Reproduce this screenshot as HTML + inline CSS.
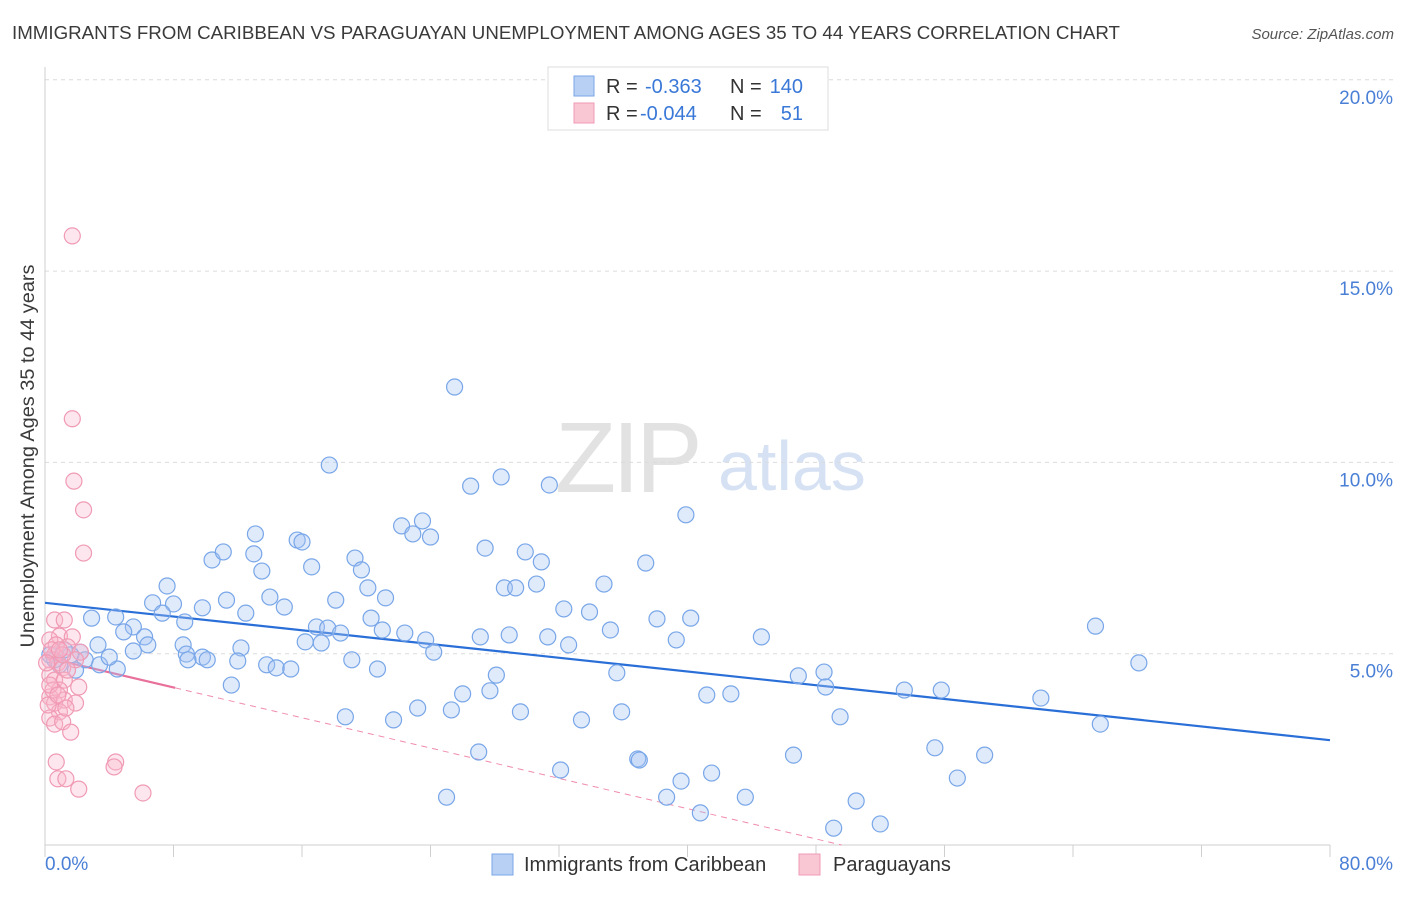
<!DOCTYPE html>
<html><head><meta charset="utf-8"><style>
body{margin:0;background:#fff;font-family:"Liberation Sans",sans-serif;}
svg text{font-family:"Liberation Sans",sans-serif;}
</style></head><body>
<svg id="chart" width="1406" height="892" xmlns="http://www.w3.org/2000/svg">
<text x="12" y="39" font-size="18.5" fill="#3a3a3a" textLength="1108" lengthAdjust="spacingAndGlyphs">IMMIGRANTS FROM CARIBBEAN VS PARAGUAYAN UNEMPLOYMENT AMONG AGES 35 TO 44 YEARS CORRELATION CHART</text>
<text x="1394" y="39" font-size="15" fill="#555" text-anchor="end" font-style="italic">Source: ZipAtlas.com</text>
<g>
<text x="555" y="492" font-size="100" fill="#e2e2e2" font-family="Liberation Serif" letter-spacing="-4">ZIP</text>
<text x="718" y="490" font-size="70" fill="#d6e2f4">atlas</text>
</g>
<g id="grid"></g>
<g id="axes"></g>
<g id="trends"></g>
<g id="points"></g>
<text transform="translate(34,456) rotate(-90)" font-size="19" fill="#3a3a3a" text-anchor="middle" textLength="383" lengthAdjust="spacingAndGlyphs">Unemployment Among Ages 35 to 44 years</text>
<g>
<rect x="548" y="67" width="280" height="63" fill="#fff" stroke="#ddd"/>
<rect x="574" y="76" width="20" height="20" fill="#b8d0f4" stroke="#7aa6e6"/>
<rect x="574" y="103" width="20" height="20" fill="#f9c6d4" stroke="#f09ab4"/>
<text x="606" y="93" font-size="20" fill="#333">R =</text>
<text x="645" y="93" font-size="20" fill="#3a78d8">-0.363</text>
<text x="730" y="93" font-size="20" fill="#333">N =</text>
<text x="803" y="93" font-size="20" fill="#3a78d8" text-anchor="end">140</text>
<text x="606" y="120" font-size="20" fill="#333">R =</text>
<text x="640" y="120" font-size="20" fill="#3a78d8">-0.044</text>
<text x="730" y="120" font-size="20" fill="#333">N =</text>
<text x="803" y="120" font-size="20" fill="#3a78d8" text-anchor="end">51</text>
</g>
<g>
<rect x="492" y="854" width="21" height="21" fill="#b8d0f4" stroke="#7aa6e6"/>
<text x="524" y="871" font-size="20" fill="#333">Immigrants from Caribbean</text>
<rect x="799" y="854" width="21" height="21" fill="#f9c6d4" stroke="#f09ab4"/>
<text x="833" y="871" font-size="20" fill="#333">Paraguayans</text>
</g>
</svg>
<script>
const blueX=[25.5,17.7,28.4,26.5,31.4,39.9,23.5,22.2,22.9,24.0,13.1,15.7,16.0,27.4,29.9,30.9,37.4,10.4,11.1,13.0,19.3,19.7,13.5,16.6,7.6,20.1,28.6,29.3,30.6,34.8,21.2,14.0,6.7,8.0,18.1,11.3,14.9,9.8,32.3,33.9,20.3,7.3,12.5,2.9,4.4,38.1,40.2,65.4,8.7,16.9,17.6,18.4,5.5,4.9,6.2,6.4,8.6,22.4,21.0,23.7,27.1,28.9,31.3,32.6,35.2,39.3,44.6,3.3,5.5,8.8,9.8,12.2,8.9,10.1,12.0,16.2,17.2,24.2,19.1,13.8,14.4,15.3,20.7,4.5,68.1,48.5,46.9,28.1,35.6,48.6,11.6,26.0,27.7,53.5,55.8,41.2,42.7,62.0,23.2,25.3,29.6,35.9,18.7,21.7,33.4,49.5,65.7,55.4,58.5,46.6,27.0,36.9,37.0,32.1,41.5,39.6,56.8,38.7,43.6,25.0,50.5,40.8,49.1,52.0,2.2,1.6,0.6,0.9,2.5,3.4,0.3,1.2,4.0,1.9];
const blueY=[11.97,9.93,9.62,9.38,9.41,8.63,8.47,8.34,8.13,8.05,8.13,7.97,7.92,7.76,7.66,7.40,7.37,7.45,7.66,7.61,7.50,7.19,7.16,7.27,6.77,6.72,6.72,6.72,6.82,6.82,6.46,6.48,6.33,6.30,6.40,6.40,6.22,6.20,6.17,6.09,5.93,6.06,6.06,5.93,5.96,5.91,5.93,5.72,5.83,5.70,5.67,5.54,5.70,5.57,5.44,5.23,5.23,5.54,5.62,5.36,5.44,5.49,5.44,5.23,5.62,5.36,5.44,5.23,5.07,4.99,4.91,5.15,4.84,4.84,4.81,5.31,5.28,5.04,4.84,4.71,4.63,4.60,4.60,4.60,4.76,4.52,4.42,4.44,4.50,4.13,4.18,3.95,4.03,4.05,4.05,3.92,3.95,3.84,3.58,3.53,3.48,3.48,3.35,3.27,3.27,3.35,3.16,2.54,2.35,2.35,2.43,2.25,2.22,1.96,1.88,1.67,1.75,1.25,1.25,1.25,1.15,0.84,0.44,0.55,5.04,4.97,4.84,4.71,4.84,4.71,4.97,5.10,4.91,4.57];
const pinkX=[1.7,1.7,1.8,2.4,2.4,0.6,1.2,0.9,1.7,1.4,0.6,0.3,0.8,1.1,0.3,0.6,1.2,2.2,2.1,0.9,0.3,0.6,1.2,1.9,0.9,0.3,0.6,1.1,1.6,0.7,4.4,4.3,0.8,1.3,2.1,6.1,0.3,0.7,0.4,0.1,0.5,0.2,1.3,1.9,1.4,0.3,0.8,1.1,0.9];
const pinkY=[15.92,11.14,9.51,8.76,7.63,5.88,5.88,5.46,5.44,5.18,4.97,4.84,4.76,4.63,4.44,4.31,4.31,5.04,4.13,4.05,3.87,3.71,3.79,3.71,3.48,3.32,3.16,3.22,2.95,2.17,2.17,2.04,1.73,1.73,1.46,1.36,5.36,5.23,5.10,4.76,4.05,3.66,3.58,4.84,4.57,4.18,3.92,4.97,5.10];
const blueTrend=[6.33,2.74]; // y at x=0 and x=80
const pinkTrend=[4.91,-0.099]; // intercept, slope
const pinkSolidEnd=8.1;
const yTicks=[5,10,15,20];
const xTickLabels=["0.0%","80.0%"];

const NS="http://www.w3.org/2000/svg";
const X0=45,X1=1330,Y0=845,YPX=191.3;
const sx=v=>X0+(v/80)*(X1-X0);
const sy=v=>Y0-v/5*YPX;
function mk(tag,attrs,parent){const e=document.createElementNS(NS,tag);for(const k in attrs)e.setAttribute(k,attrs[k]);document.getElementById(parent).appendChild(e);return e;}

yTicks.forEach(t=>{
  const g=mk('line',{x1:X0,x2:1394,y1:sy(t),y2:sy(t),stroke:'#dcdcdc','stroke-dasharray':'4,4'},'grid');
  
  
  const l=mk('text',{x:1393,y:sy(t)+24,'font-size':19,fill:'#4a7fd6','text-anchor':'end'},'grid');
  
  
  l.textContent=t.toFixed(1)+'%';
});
const ya=mk('line',{x1:X0,x2:X0,y1:67,y2:Y0,stroke:'#cfcfcf'},'axes');


const xa=mk('line',{x1:X0,x2:X1,y1:Y0,y2:Y0,stroke:'#cfcfcf'},'axes');


for(let i=0;i<=10;i++){
  const t=mk('line',{x1:sx(i*8),x2:sx(i*8),y1:Y0,y2:Y0+12,stroke:'#cfcfcf'},'axes');
  
  
}
const xl0=mk('text',{x:45,y:870,'font-size':19,fill:'#4a7fd6'},'axes');


xl0.textContent=xTickLabels[0];
const xl1=mk('text',{x:1393,y:870,'font-size':19,fill:'#4a7fd6','text-anchor':'end'},'axes');


xl1.textContent=xTickLabels[1];

blueX.forEach((v,i)=>{
  const c=mk('circle',{cx:sx(v),cy:sy(blueY[i]),r:8,fill:'rgba(164,196,244,0.35)',stroke:'#78a6e8','stroke-width':1.2},'points');
  
  
});
pinkX.forEach((v,i)=>{
  const c=mk('circle',{cx:sx(v),cy:sy(pinkY[i]),r:8,fill:'rgba(248,182,202,0.35)',stroke:'#f09ab4','stroke-width':1.2},'points');
  
  
});
const bt=mk('line',{x1:sx(0),y1:sy(blueTrend[0]),x2:sx(80),y2:sy(blueTrend[1]),stroke:'#2a6fd8','stroke-width':2.2},'trends');


const pEnd=-pinkTrend[0]/pinkTrend[1];
const pd=mk('line',{x1:sx(pinkSolidEnd),y1:sy(pinkTrend[0]+pinkTrend[1]*pinkSolidEnd),x2:sx(pEnd),y2:sy(0),stroke:'#f08cac','stroke-width':1,'stroke-dasharray':'6,5'},'trends');


const ps=mk('line',{x1:sx(0),y1:sy(pinkTrend[0]),x2:sx(pinkSolidEnd),y2:sy(pinkTrend[0]+pinkTrend[1]*pinkSolidEnd),stroke:'#e8709a','stroke-width':2.2},'trends');


</script>
</body></html>
